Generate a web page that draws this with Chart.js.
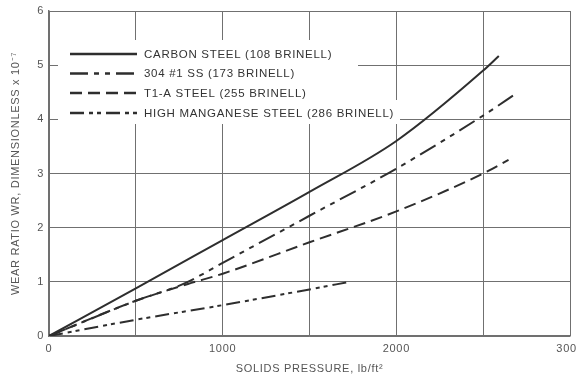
<!DOCTYPE html>
<html>
<head>
<meta charset="utf-8">
<script src="https://cdn.jsdelivr.net/npm/chart.js@4"></script>
<style>
  html, body { margin: 0; padding: 0; background: #fff; }
  #wrap { width: 577px; height: 376px; }
</style>
</head>
<body>
<div id="wrap"><canvas id="wearChart" width="577" height="376"></canvas></div>
<script>
// Wear ratio vs solids pressure
const carbonX = [0, 500, 1000, 1500, 2000, 2500, 2590];
const carbonY = [0, 0.88, 1.77, 2.66, 3.6, 4.9, 5.17];

const ss304X = [0, 500, 780, 1000, 1500, 2000, 2500, 2700];
const ss304Y = [0, 0.65, 0.97, 1.35, 2.22, 3.09, 4.07, 4.5];

const t1aX = [0, 500, 800, 1000, 1500, 2000, 2500, 2646];
const t1aY = [0, 0.65, 0.96, 1.15, 1.73, 2.3, 3.0, 3.25];

const hmX = [0, 500, 1000, 1500, 1730];
const hmY = [0, 0.3, 0.57, 0.86, 1.0];

const seriesLabels = [
    'CARBON STEEL (108 BRINELL)',
    '304 #1 SS (173 BRINELL)',
    'T1-A STEEL (255 BRINELL)',
    'HIGH MANGANESE STEEL (286 BRINELL)'
];

const xTickLabels = [0, 1000, 2000, 3000];

const lineColor = '#2e2e2e';
const gridColor = '#707070';
const textColor = '#555';
const fontFamily = '"Liberation Sans", Arial, Helvetica, sans-serif';

function toPoints(xs, ys) {
    return xs.map((x, i) => ({ x: x, y: ys[i] }));
}

// Legend drawn inside the plot on a white box that hides the grid behind it
const boxLegend = {
    id: 'boxLegend',
    beforeDatasetsDraw(chart) {
        const ctx = chart.ctx;
        ctx.save();
        ctx.fillStyle = '#fff';
        ctx.fillRect(58, 40, 300, 70);
        ctx.fillRect(58, 100, 342, 24);
        const rows = [54, 73.5, 93, 113];
        chart.data.datasets.forEach((ds, i) => {
            const y = rows[i];
            ctx.strokeStyle = ds.borderColor;
            ctx.lineWidth = 2.4;
            ctx.setLineDash(ds.borderDash || []);
            ctx.beginPath();
            ctx.moveTo(70, y);
            ctx.lineTo(137, y);
            ctx.stroke();
            ctx.setLineDash([]);
            ctx.fillStyle = '#333';
            ctx.font = '11.5px ' + fontFamily;
            ctx.letterSpacing = '0.7px';
            ctx.textBaseline = 'middle';
            ctx.textAlign = 'left';
            ctx.fillText(ds.label, 144, y + 0.5);
        });
        ctx.restore();
    }
};

const spacing = {
    id: 'spacing',
    beforeDraw(chart) {
        chart.ctx.letterSpacing = '0.7px';
    }
};

const ctx = document.getElementById('wearChart').getContext('2d');
new Chart(ctx, {
    type: 'line',
    data: {
        datasets: [
            { label: seriesLabels[0], data: toPoints(carbonX, carbonY), borderDash: [] },
            { label: seriesLabels[1], data: toPoints(ss304X, ss304Y), borderDash: [18, 6, 5, 6, 5, 6] },
            { label: seriesLabels[2], data: toPoints(t1aX, t1aY), borderDash: [12, 6] },
            { label: seriesLabels[3], data: toPoints(hmX, hmY), borderDash: [14, 5, 4, 4, 4, 5] }
        ].map(ds => Object.assign(ds, {
            borderColor: lineColor,
            borderWidth: 2,
            pointRadius: 0,
            fill: false,
            cubicInterpolationMode: 'monotone'
        }))
    },
    options: {
        responsive: false,
        animation: false,
        layout: { padding: { top: 11, right: 7, left: 0, bottom: 0 } },
        plugins: {
            legend: { display: false },
            tooltip: { enabled: false }
        },
        scales: {
            x: {
                type: 'linear',
                min: 0,
                max: 3000,
                grid: { color: gridColor, lineWidth: 1, drawTicks: false },
                border: { color: gridColor, width: 1.5 },
                ticks: {
                    stepSize: 500,
                    padding: 6,
                    color: textColor,
                    font: { family: fontFamily, size: 11 },
                    maxRotation: 0,
                    callback: v => xTickLabels.includes(v) ? String(v) : ''
                },
                title: {
                    display: true,
                    text: 'SOLIDS PRESSURE, lb/ft²',
                    color: textColor,
                    font: { family: fontFamily, size: 11 },
                    padding: { top: 8, bottom: 0 }
                },
                afterFit: s => {
                    s.height = 40;
                    s.paddingLeft = 0;
                    s.paddingRight = 0;
                }
            },
            y: {
                min: 0,
                max: 6,
                grid: { color: gridColor, lineWidth: 1, drawTicks: false },
                border: { color: gridColor, width: 1.5 },
                ticks: {
                    stepSize: 1,
                    padding: 5,
                    color: textColor,
                    font: { family: fontFamily, size: 11 }
                },
                title: {
                    display: true,
                    text: 'WEAR RATIO WR, DIMENSIONLESS x 10⁻⁷',
                    color: textColor,
                    font: { family: fontFamily, size: 11 },
                    padding: { top: 9, bottom: 0 }
                },
                afterFit: s => {
                    s.width = 49;
                    s.paddingTop = 0;
                    s.paddingBottom = 0;
                }
            }
        }
    },
    plugins: [spacing, boxLegend]
});
</script>
</body>
</html>
